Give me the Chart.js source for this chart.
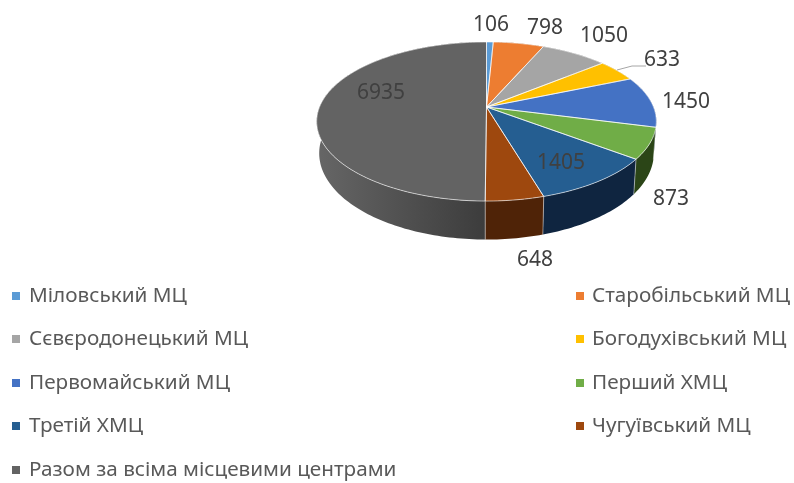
<!DOCTYPE html>
<html><head><meta charset="utf-8">
<style>html,body{margin:0;padding:0;background:#fff}canvas{display:block}</style>
<script src="https://cdn.jsdelivr.net/npm/chart.js@4"></script></head>
<body><div style="width:794px;height:483px"><canvas id="c" width="794" height="483"></canvas></div>
<script>
const categories = ["Міловський МЦ","Старобільський МЦ","Сєвєродонецький МЦ","Богодухівський МЦ","Первомайський МЦ","Перший ХМЦ","Третій ХМЦ","Чугуївський МЦ","Разом за всіма місцевими центрами"];
const values = [106,798,1050,633,1450,873,1405,648,6935];
const colors = ["#5B9BD5","#ED7D31","#A5A5A5","#FFC000","#4472C4","#70AD47","#255E91","#9E480E","#636363"];
const wallColors = ["#264f73","#7a3f16","#555555","#806000","#22396b","#2b4517","#0f2540","#4f2307","#444444"];
const labelAnchors = [[491,25],[545,28],[604,36],[662,60],[686,102],[671,199],[561,163],[535,260],[381,93]];
const legendRows = [296,339,383,426,470];
const legendCols = [{m:12,t:29},{m:576,t:592}];

// projection of the unit pie onto the tilted view
const P = {x0:486.5,y0:107,A:167,B:76.9,k:0.1824,sx:0.985,sy:1.085,dy:30.5};
function topPt(a){const u=Math.cos(a),v=Math.sin(a),w=1-P.k*v;return [P.x0+P.A*u/w,P.y0+P.B*v/w];}
function botPt(a){const p=topPt(a);return [P.x0+P.sx*(p[0]-P.x0),P.y0+P.dy+P.sy*(p[1]-P.y0)];}
function arcPts(f,s,e){const n=Math.max(4,Math.ceil((e-s)/0.02)),r=[];for(let i=0;i<=n;i++)r.push(f(s+(e-s)*i/n));return r;}
function trace(ctx,pts,first){pts.forEach((p,i)=>{(i===0&&first)?ctx.moveTo(p[0],p[1]):ctx.lineTo(p[0],p[1]);});}

const pie3d = {
  id:'pie3d',
  beforeDatasetDraw(chart,args){
    const ctx=chart.ctx, arcs=chart.getDatasetMeta(args.index).data;
    ctx.save();
    // side walls
    arcs.forEach((el,i)=>{
      const s=el.startAngle,e=el.endAngle;
      ctx.beginPath();
      trace(ctx,arcPts(topPt,s,e),true);
      trace(ctx,arcPts(botPt,s,e).reverse(),false);
      ctx.closePath();
      if(i===values.length-1){
        const g=ctx.createLinearGradient(P.x0-170,0,P.x0,0);
        g.addColorStop(0,'#666666');g.addColorStop(1,'#3c3c3c');
        ctx.fillStyle=g;
      } else ctx.fillStyle=wallColors[i];
      ctx.fill();
    });
    // wall seams and rim
    ctx.strokeStyle='rgba(255,255,255,0.45)';ctx.lineWidth=1;
    arcs.forEach(el=>{
      const a=el.startAngle;
      if(Math.sin(a)>0.15){const p=topPt(a),q=botPt(a);ctx.beginPath();ctx.moveTo(p[0],p[1]);ctx.lineTo(q[0],q[1]);ctx.stroke();}
    });
    // top surface
    arcs.forEach((el,i)=>{
      ctx.beginPath();ctx.moveTo(P.x0,P.y0);
      trace(ctx,arcPts(topPt,el.startAngle,el.endAngle),false);
      ctx.closePath();
      ctx.fillStyle=colors[i];ctx.fill();
    });
    ctx.strokeStyle='rgba(255,255,255,0.6)';ctx.lineWidth=1;ctx.lineJoin='round';
    arcs.forEach(el=>{
      ctx.beginPath();ctx.moveTo(P.x0,P.y0);
      trace(ctx,arcPts(topPt,el.startAngle,el.endAngle),false);
      ctx.closePath();ctx.stroke();
    });
    ctx.restore();
    return false;
  },
  afterDraw(chart){
    const ctx=chart.ctx;
    ctx.save();
    // leader line
    ctx.strokeStyle='#a6a6a6';ctx.lineWidth=1;
    ctx.beginPath();ctx.moveTo(617,70);ctx.lineTo(632,66);ctx.lineTo(646,66);ctx.stroke();
    // value labels
    ctx.fillStyle='#404040';ctx.font='21px "Noto Sans"';ctx.textAlign='center';ctx.textBaseline='middle';
    values.forEach((v,i)=>ctx.fillText(String(v),labelAnchors[i][0],labelAnchors[i][1]));
    // legend
    ctx.font='20.7px "Noto Sans"';ctx.textAlign='left';
    categories.forEach((name,i)=>{
      const col=legendCols[i%2],y=legendRows[Math.floor(i/2)];
      ctx.fillStyle=colors[i];ctx.fillRect(col.m,y-4,8,8);
      ctx.fillStyle='#595959';ctx.fillText(name,col.t,y);
    });
    ctx.restore();
  }
};

new Chart(document.getElementById('c'),{
  type:'pie',
  data:{labels:categories,datasets:[{data:values,backgroundColor:colors}]},
  options:{responsive:false,animation:false,plugins:{legend:{display:false},tooltip:{enabled:false}}},
  plugins:[pie3d]
});
</script></body></html>
